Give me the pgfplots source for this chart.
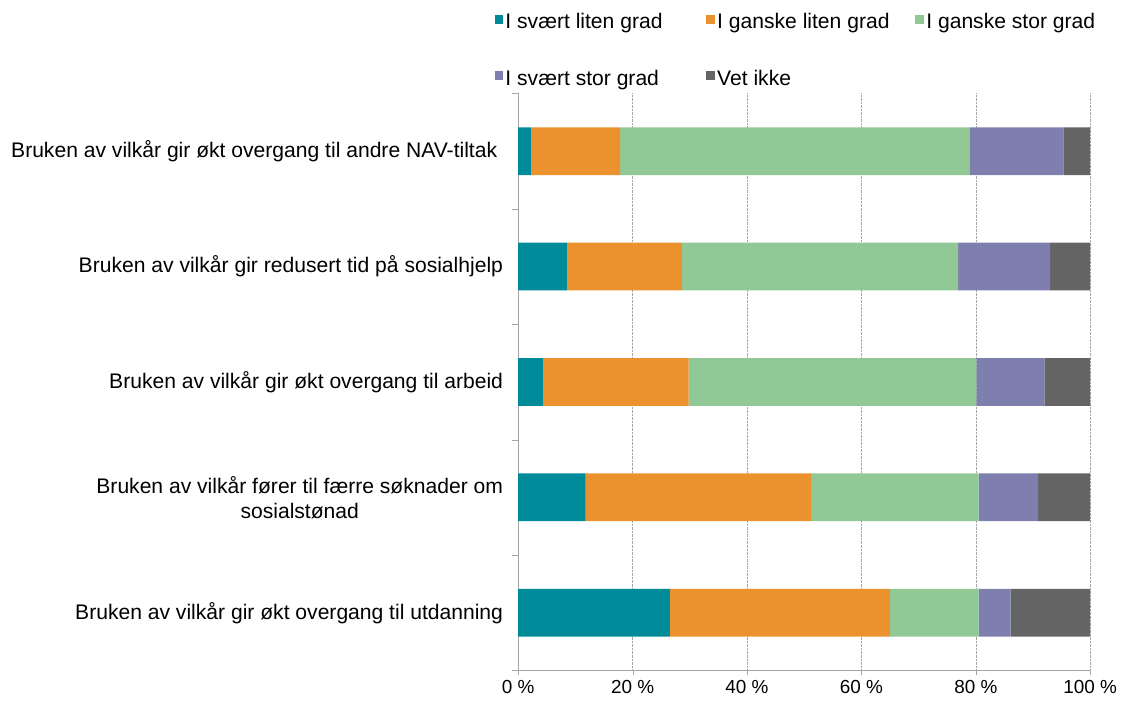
\documentclass[border=0pt]{standalone}
\usepackage{pgfplots}
\usepackage{pgfplotstable}
\pgfplotsset{compat=1.18}
\usepackage{fontspec}
\setmainfont{Liberation Sans}

\definecolor{tealbar}{RGB}{0,139,155}
\definecolor{orangebar}{RGB}{235,146,46}
\definecolor{greenbar}{RGB}{145,201,150}
\definecolor{purplebar}{RGB}{126,126,175}
\definecolor{greybar}{RGB}{100,100,100}
\definecolor{axgray}{RGB}{165,165,165}

% cat 0 = bottom (utdanning), 4 = top (NAV-tiltak)
\pgfplotstableread{
cat  s1    s2    s3    s4    s5
0    26.5  38.5  15.5  5.6   13.9
1    11.8  39.4  29.3  10.4  9.1
2    4.3   25.5  50.3  11.9  8.0
3    8.5   20.1  48.3  16.1  7.0
4    2.2   15.6  61.1  16.4  4.7
}\datatable

\begin{document}
\fontsize{21.2}{25}\selectfont
\begin{tikzpicture}
\begin{axis}[
    xbar stacked,
    scale only axis,
    width=575pt, height=580pt,
    xmin=0, xmax=100,
    ymin=-0.5, ymax=4.5,
    bar width=48pt,
    axis x line=bottom, axis y line=left,
    axis line style={draw=axgray, -},
    xtick={0,20,40,60,80,100},
    xticklabels={0 \%,20 \%,40 \%,60 \%,80 \%,100 \%},
    x tick label style={font=\fontsize{19}{22}\selectfont, yshift=2pt},
    tick align=outside,
    major tick length=5pt,
    minor tick length=6pt,
    tick style={draw=axgray},
    ytick={0,1,2,3,4},
    minor ytick={-0.5,0.5,1.5,2.5,3.5,4.5},
    y tick style={/pgfplots/major tick length=0pt},
    yticklabels={
        {Bruken av vilkår gir økt overgang til utdanning},
        {Bruken av vilkår fører til færre søknader om\\sosialstønad},
        {Bruken av vilkår gir økt overgang til arbeid},
        {Bruken av vilkår gir redusert tid på sosialhjelp},
        {Bruken av vilkår gir økt overgang til andre NAV-tiltak\ }},
    yticklabel style={align=center, xshift=-3pt},
    xmajorgrids,
    grid style={densely dotted, axgray},
    legend columns=3,
    legend cell align=left,
    legend image code/.code={\fill[#1] (0pt,-1pt) rectangle (9pt,8pt);},
    legend style={draw=none, fill=none, at={(-0.047,1)}, anchor=south west,
        yshift=1pt, row sep=34pt,
        /tikz/column 2/.style={column sep=42pt},
        /tikz/column 4/.style={column sep=24pt}},
]
\addplot[fill=tealbar, draw=none] table[x=s1, y=cat] {\datatable};
\addplot[fill=orangebar, draw=none] table[x=s2, y=cat] {\datatable};
\addplot[fill=greenbar, draw=none] table[x=s3, y=cat] {\datatable};
\addplot[fill=purplebar, draw=none] table[x=s4, y=cat] {\datatable};
\addplot[fill=greybar, draw=none] table[x=s5, y=cat] {\datatable};
\legend{I svært liten grad, I ganske liten grad, I ganske stor grad, I svært stor grad, Vet ikke}
\end{axis}
% white margin above the legend and at the left, as in the reference
\path ([yshift=94pt]current axis.north west);
\path ([xshift=-521pt]current axis.south west);
\end{tikzpicture}
\end{document}
